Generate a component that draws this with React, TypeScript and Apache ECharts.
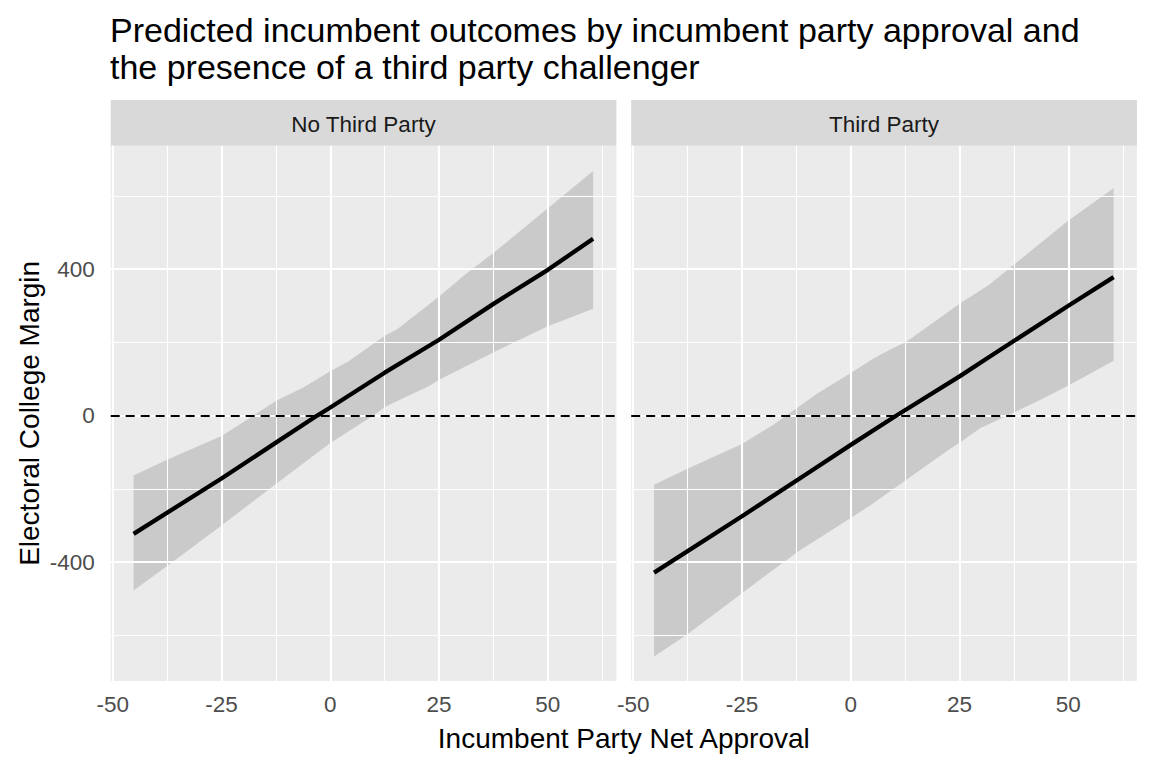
import React, { useEffect, useRef } from "react";
import * as echarts from "echarts";

// ---- Data ----
const panels = ["No Third Party", "Third Party"];
const xTicks = [-50, -25, 0, 25, 50];
const xMinor = [-37.5, -12.5, 12.5, 37.5, 62.5];
const yTicks = [-400, 0, 400];
const yMinor = [-600, -200, 200, 600];

const noTpFitX = [-45.2, -25, -12.5, -3, 0, 12.5, 25, 37.5, 50, 60.4];
const noTpFitY = [-323, -172, -74, 0, 22, 117, 207, 305, 398, 483];
const noTpUpperX = [-45.2, -37.5, -25, -17.6, -12.2, -6.1, 0, 4.2, 12.7, 15.3, 25, 31, 37.9, 50, 60.4];
const noTpUpperY = [-164, -121, -56, 0, 42, 77, 121, 148, 219, 235, 325, 385, 448, 566, 668];
const noTpLowerX = [-45.2, -37.5, -25, -12.5, 0, 9.9, 12.7, 22.6, 25, 37.9, 50, 60.4];
const noTpLowerY = [-478, -411, -300, -187, -75, 0, 25, 80, 98, 175, 244, 292];

const tpFitX = [-45.2, -25, -9.2, 0, 10.5, 25, 31.8, 50, 60.4];
const tpFitY = [-429, -275, -152, -80, 0, 107, 160, 300, 378];
const tpUpperX = [-45.2, -37.3, -25, -17.6, -14.8, -12.2, -7.7, 0, 5.4, 9.9, 12.7, 25, 31.8, 37.9, 50, 60.4];
const tpUpperY = [-189, -144, -78, -24, 0, 22, 60, 116, 157, 185, 201, 305, 357, 416, 533, 621];
const tpLowerX = [-45.2, -37.3, -25, -12.2, 0, 4.6, 12.7, 23, 25, 29.8, 36, 43.6, 50, 60.4];
const tpLowerY = [-658, -595, -485, -372, -280, -244, -176, -89, -74, -34, 0, 43, 82, 150];

const titleText =
  "Predicted incumbent outcomes by incumbent party approval and\nthe presence of a third party challenger";
const xTitle = "Incumbent Party Net Approval";
const yTitle = "Electoral College Margin";

const FONT = "Arial, 'Liberation Sans', Helvetica, sans-serif";

const panelData = [
  { fitX: noTpFitX, fitY: noTpFitY, ux: noTpUpperX, uy: noTpUpperY, lx: noTpLowerX, ly: noTpLowerY },
  { fitX: tpFitX, fitY: tpFitY, ux: tpUpperX, uy: tpUpperY, lx: tpLowerX, ly: tpLowerY },
];

const GRID_TOP = 145.7;
const GRID_H = 535.3;
const GRID_W = 505.7;
const GRID_LEFTS = [110.7, 631.2];
const STRIP_TOP = 100;

function buildOption() {
  const grids = GRID_LEFTS.map((left) => ({
    left,
    top: GRID_TOP,
    width: GRID_W,
    height: GRID_H,
    show: true,
    backgroundColor: "#EBEBEB",
    borderWidth: 0,
    containLabel: false,
  }));

  const xAxes = GRID_LEFTS.map((_, i) => ({
    type: "value",
    gridIndex: i,
    min: -50.46,
    max: 65.75,
    axisLine: { show: false },
    splitLine: { show: false },
    axisTick: {
      show: true,
      customValues: xTicks,
      length: 7,
      lineStyle: { color: "#333333", width: 2 },
    },
    axisLabel: {
      show: true,
      customValues: xTicks,
      color: "#4D4D4D",
      fontSize: 22.5,
      fontFamily: FONT,
      margin: 12,
    },
  }));

  const yAxes = GRID_LEFTS.map((_, i) => ({
    type: "value",
    gridIndex: i,
    min: -725,
    max: 737,
    axisLine: { show: false },
    splitLine: { show: false },
    axisTick: {
      show: i === 0,
      customValues: yTicks,
      length: 7,
      lineStyle: { color: "#333333", width: 2 },
    },
    axisLabel: {
      show: i === 0,
      customValues: yTicks,
      color: "#4D4D4D",
      fontSize: 22.5,
      fontFamily: FONT,
      margin: 16,
    },
  }));

  const series: any[] = [];
  panelData.forEach((p, i) => {
    // grid lines
    series.push({
      type: "line",
      xAxisIndex: i,
      yAxisIndex: i,
      data: [],
      z: 1,
      silent: true,
      markLine: {
        silent: true,
        animation: false,
        symbol: ["none", "none"],
        label: { show: false },
        emphasis: { disabled: true },
        lineStyle: { color: "#FFFFFF", type: "solid", width: 2.1 },
        data: [
          ...yMinor.map((v) => ({ yAxis: v, lineStyle: { color: "#FFFFFF", type: "solid", width: 1.1 } })),
          ...xMinor.map((v) => ({ xAxis: v, lineStyle: { color: "#FFFFFF", type: "solid", width: 1.1 } })),
          ...yTicks.map((v) => ({ yAxis: v })),
          ...xTicks.map((v) => ({ xAxis: v })),
        ],
      },
    });
    // ribbon
    series.push({
      type: "custom",
      xAxisIndex: i,
      yAxisIndex: i,
      data: [[0, 0]],
      z: 3,
      silent: true,
      renderItem: (_params: any, api: any) => {
        const pts: number[][] = [];
        for (let k = 0; k < p.ux.length; k++) pts.push(api.coord([p.ux[k], p.uy[k]]));
        for (let k = p.lx.length - 1; k >= 0; k--) pts.push(api.coord([p.lx[k], p.ly[k]]));
        return {
          type: "polygon",
          shape: { points: pts },
          style: { fill: "rgba(153,153,153,0.4)" },
          silent: true,
        };
      },
    });
    // zero reference line
    series.push({
      type: "line",
      xAxisIndex: i,
      yAxisIndex: i,
      data: [],
      z: 4,
      silent: true,
      markLine: {
        silent: true,
        animation: false,
        symbol: ["none", "none"],
        label: { show: false },
        emphasis: { disabled: true },
        lineStyle: { color: "#000000", type: [9, 6], width: 2 },
        data: [{ yAxis: 0 }],
      },
    });
    // fitted line
    series.push({
      type: "line",
      xAxisIndex: i,
      yAxisIndex: i,
      z: 5,
      silent: true,
      symbol: "none",
      showSymbol: false,
      lineStyle: { color: "#000000", width: 4.3, cap: "butt" },
      emphasis: { disabled: true },
      data: p.fitX.map((x, k) => [x, p.fitY[k]]),
    });
  });

  const graphics: any[] = [];
  panels.forEach((name, i) => {
    graphics.push({
      type: "rect",
      silent: true,
      shape: { x: GRID_LEFTS[i], y: STRIP_TOP, width: GRID_W, height: GRID_TOP - STRIP_TOP },
      style: { fill: "#D9D9D9" },
    });
    graphics.push({
      type: "text",
      silent: true,
      x: GRID_LEFTS[i] + GRID_W / 2,
      y: 124,
      style: {
        text: name,
        fill: "#1A1A1A",
        fontSize: 22.5,
        fontFamily: FONT,
        align: "center",
        verticalAlign: "middle",
      },
    });
  });
  graphics.push({
    type: "text",
    silent: true,
    x: (GRID_LEFTS[0] + GRID_LEFTS[1] + GRID_W) / 2,
    y: 738,
    style: {
      text: xTitle,
      fill: "#000000",
      fontSize: 28,
      fontFamily: FONT,
      align: "center",
      verticalAlign: "middle",
    },
  });
  graphics.push({
    type: "text",
    silent: true,
    x: 29,
    y: GRID_TOP + GRID_H / 2,
    rotation: Math.PI / 2,
    style: {
      text: yTitle,
      fill: "#000000",
      fontSize: 28,
      fontFamily: FONT,
      align: "center",
      verticalAlign: "middle",
    },
  });

  return {
    animation: false,
    backgroundColor: "#FFFFFF",
    textStyle: { fontFamily: FONT },
    title: {
      text: titleText,
      left: 110,
      top: 11.5,
      padding: 0,
      textStyle: {
        fontSize: 34,
        lineHeight: 37,
        color: "#000000",
        fontWeight: "normal",
        fontFamily: FONT,
      },
    },
    grid: grids,
    xAxis: xAxes,
    yAxis: yAxes,
    series,
    graphic: graphics,
  };
}

export default function App() {
  const ref = useRef<HTMLDivElement>(null);
  useEffect(() => {
    if (!ref.current) return;
    const chart = echarts.init(ref.current, null, { renderer: "svg", width: 1152, height: 768 });
    chart.setOption(buildOption() as any);
    return () => {
      chart.dispose();
    };
  }, []);
  return (
    <div
      ref={ref}
      style={{ position: "fixed", left: 0, top: 0, width: 1152, height: 768, background: "#FFFFFF" }}
    />
  );
}
